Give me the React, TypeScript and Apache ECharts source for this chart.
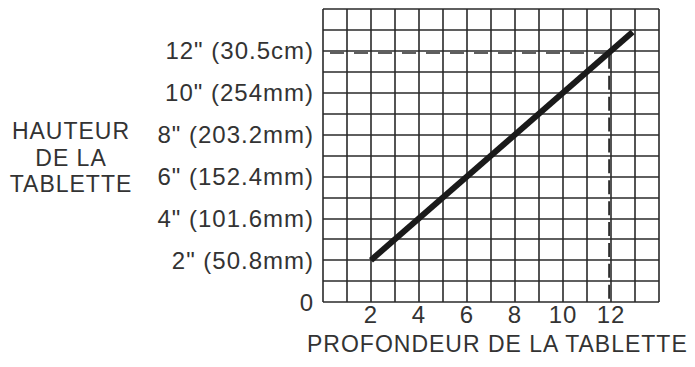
import React, { useEffect, useRef } from "react";
import * as echarts from "echarts";

const xTickValues = [2, 4, 6, 8, 10, 12];
const yTickValues = [0, 2, 4, 6, 8, 10, 12];
const yTickLabels = [
  "0",
  '2" (50.8mm)',
  '4" (101.6mm)',
  '6" (152.4mm)',
  '8" (203.2mm)',
  '10" (254mm)',
  '12" (30.5cm)',
];
const axisMin = 0;
const axisMax = 14;
const shelfLine = [
  [2, 2],
  [12.9, 12.9],
];
const guideHorizontal = [
  [0, 11.9],
  [11.92, 11.9],
];
const guideVertical = [
  [11.92, 11.9],
  [11.92, 0],
];
const xTitle = "PROFONDEUR DE LA TABLETTE";
const yTitle = "HAUTEUR\nDE LA\nTABLETTE";

const FONT = '"Liberation Sans", Arial, Helvetica, sans-serif';
const INK = "#333333";

export default function App() {
  const ref = useRef<HTMLDivElement>(null);
  useEffect(() => {
    if (!ref.current) return;
    const chart = echarts.init(ref.current, undefined, { renderer: "svg" });
    const gridLine = { show: true, lineStyle: { color: "#2a2a2a", width: 1.6, type: "solid" as const } };
    chart.setOption({
      animation: false,
      backgroundColor: "#ffffff",
      textStyle: { fontFamily: FONT },
      grid: { left: 323, right: 36, top: 9, bottom: 65, outerBoundsMode: "none", containLabel: false },
      xAxis: {
        type: "value",
        min: axisMin,
        max: axisMax,
        interval: 1,
        axisLine: { show: false },
        axisTick: { show: false },
        splitLine: gridLine,
        axisLabel: {
          margin: 0,
          color: INK,
          fontSize: 24,
          fontFamily: FONT,
          formatter: (v: number) => (xTickValues.includes(v) ? String(v) : ""),
        },
      },
      yAxis: {
        type: "value",
        min: axisMin,
        max: axisMax,
        interval: 1,
        axisLine: { show: false },
        axisTick: { show: false },
        splitLine: gridLine,
        axisLabel: {
          margin: 9,
          color: INK,
          fontSize: 24,
          fontFamily: FONT,
          formatter: (v: number) => {
            const i = yTickValues.indexOf(v);
            return i >= 0 ? yTickLabels[i] : "";
          },
        },
      },
      graphic: [
        {
          type: "text",
          left: 307,
          top: 332,
          style: { text: xTitle, font: `23px ${FONT}`, fill: INK },
        },
        {
          type: "text",
          x: 71,
          y: 157.5,
          style: {
            text: yTitle,
            font: `23px ${FONT}`,
            fill: INK,
            align: "center",
            verticalAlign: "middle",
            lineHeight: 26.5,
          },
        },
      ],
      series: [
        {
          type: "line",
          data: guideHorizontal,
          symbol: "none",
          z: 3,
          lineStyle: { color: "#2a2a2a", width: 1.6, type: [14, 10], dashOffset: 17 },
        },
        {
          type: "line",
          data: guideVertical,
          symbol: "none",
          z: 3,
          lineStyle: { color: "#2a2a2a", width: 1.8, type: [14, 6.9], dashOffset: 18.9 },
        },
        {
          type: "line",
          data: shelfLine,
          symbol: "none",
          z: 4,
          lineStyle: { color: "#1a1a1a", width: 6, cap: "butt" },
        },
      ],
    });
    return () => chart.dispose();
  }, []);
  return (
    <>
      <style>{`#chart-root text { letter-spacing: 1px; }`}</style>
      <div
        id="chart-root"
        ref={ref}
        style={{ position: "fixed", left: 0, top: 0, width: 695, height: 367, background: "#fff" }}
      />
    </>
  );
}
